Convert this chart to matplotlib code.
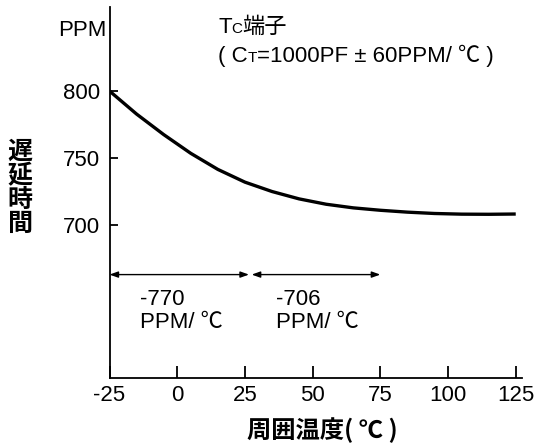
import matplotlib
matplotlib.use("Agg")
import matplotlib.pyplot as plt

# delay-time drift versus ambient temperature, Tc terminal
temps = [-25, -15, -5, 5, 15, 25, 35, 45, 55, 65, 75, 85, 95, 105, 115, 125]
ppm = [800, 782.8, 767.5, 753.5, 741.5, 732, 725, 719.5, 715.5, 712.8,
       711, 709.6, 708.6, 708.1, 708, 708.2]

xticks = [-25, 0, 25, 50, 75, 100, 125]
yticks = [700, 750, 800]

# temperature ranges for the average coefficient arrows
span_from = [-25, 27.5]
span_to = [26.5, 75]
span_level = 663
span_labels = ["-770\nPPM/ ℃", "-706\nPPM/ ℃"]
label_x = [-13.7, 36.4]
label_y = 636

LATIN = ["Liberation Sans", "Noto Sans CJK JP", "DejaVu Sans"]
CJK = ["Noto Sans CJK JP", "DejaVu Sans"]
plt.rcParams["font.family"] = LATIN

W, H = 540, 445
fig = plt.figure(figsize=(W / 100, H / 100), dpi=100)
ax = fig.add_axes([109.5 / W, 66.7 / H, (521.7 - 109.5) / W, (438 - 66.7) / H])

ax.plot(temps, ppm, color="black", linewidth=2.4, solid_capstyle="butt")

for a, b in zip(span_from, span_to):
    ax.annotate("", xy=(b, span_level), xytext=(a, span_level),
                arrowprops=dict(arrowstyle="<|-|>,head_length=0.5,head_width=0.18",
                                color="black", lw=1.0, shrinkA=0, shrinkB=0))
for x, s in zip(label_x, span_labels):
    ax.text(x, label_y, s, fontsize=16, ha="left", va="center", linespacing=1.15)

ax.set_xlim(-25, 127.2)
ax.set_ylim(585.6, 862.7)
ax.set_xticks(xticks)
ax.set_xticklabels([str(t) for t in xticks])
ax.set_yticks(yticks)
ax.set_yticklabels([str(t) for t in yticks])
for side in ("top", "right"):
    ax.spines[side].set_visible(False)
for side in ("left", "bottom"):
    ax.spines[side].set_linewidth(1.3)
ax.tick_params(axis="x", direction="in", length=8.5, width=1.3, pad=5, labelsize=16)
ax.tick_params(axis="y", direction="in", length=5.5, width=1.3, pad=7, labelsize=16)

fig.text(107 / W, 1 - 30 / H, "PPM", fontsize=16, ha="right", va="center")


def chain_text(parts, x, y):
    # lay out mixed-size pieces on one baseline, each starting where the last ended
    prev = fig.text(x, y, parts[0][0], fontsize=parts[0][1], ha="left", va="baseline")
    for s, size in parts[1:]:
        prev = fig.add_artist(plt.Annotation(
            s, xy=(1, y), xycoords=(prev, "figure fraction"),
            fontsize=size, ha="left", va="baseline"))


chain_text([("T", 16), ("C", 11), ("端子", 16)], 218 / W, 1 - 33 / H)
chain_text([("( C", 16), ("T", 11), ("=1000PF ± 60PPM/ ℃ )", 16)], 218 / W, 1 - 62 / H)

fig.text(20 / W, 1 - 188 / H, "\n".join("遅延時間"), fontsize=18, fontweight="bold",
         family=CJK, ha="center", va="center", linespacing=1.0)
fig.text(322 / W, 1 - 430 / H, "周囲温度( ℃ )", fontsize=17.5, fontweight="bold",
         family=CJK, ha="center", va="center")

fig.savefig("out.png", dpi=100)
